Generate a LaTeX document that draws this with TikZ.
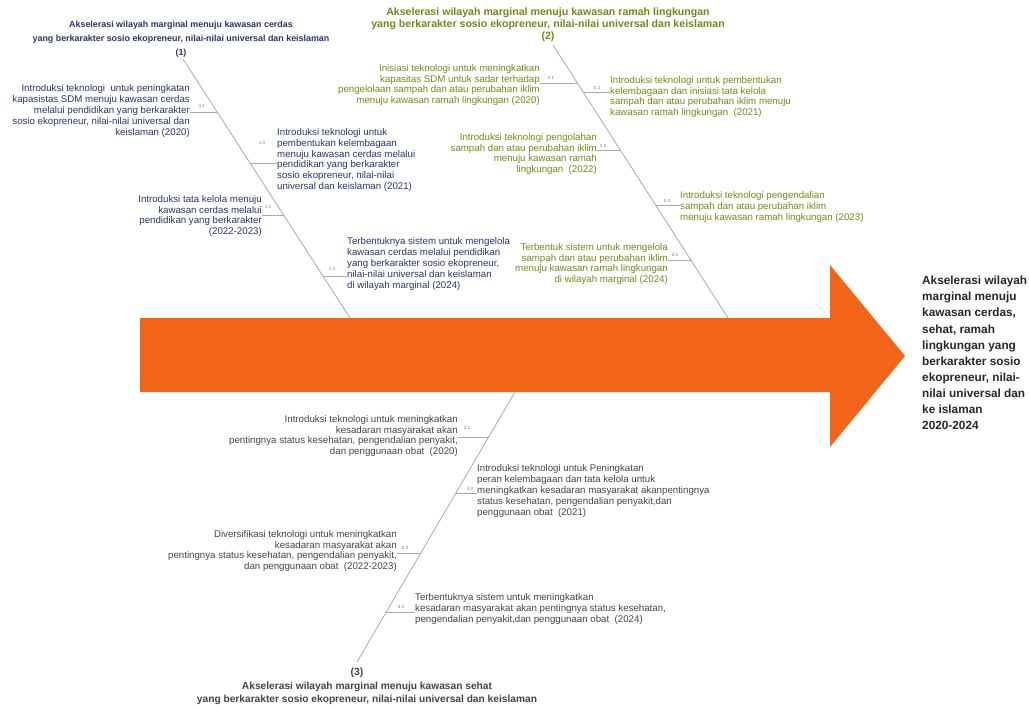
\documentclass[tikz,border=0pt]{standalone}
\usepackage{fontspec}
\setmainfont{Liberation Sans}
\definecolor{grpone}{RGB}{40,52,108}
\definecolor{grptwo}{RGB}{120,134,24}
\definecolor{grpthree}{RGB}{68,68,68}
\definecolor{arrowor}{RGB}{242,100,24}
\definecolor{bonegray}{RGB}{170,170,170}
\definecolor{numgray}{RGB}{120,120,120}
\begin{document}
\begin{tikzpicture}[x=1pt,y=-1pt,
    txt/.style={inner sep=0pt, font=\fontsize{9.7}{10.9}\selectfont},
    lefttxt/.style={txt, align=left, anchor=west},
    righttxt/.style={txt, align=right, anchor=east},
    head/.style={inner sep=0pt, align=center, font=\bfseries},
    num/.style={inner sep=0pt, text=numgray, font=\fontsize{4.5}{5}\selectfont},
    bone/.style={draw=bonegray, line width=0.8pt},
    twig/.style={draw=bonegray, line width=0.6pt}]
    \useasboundingbox (0,0) rectangle (1029,709);

    % spine
    \fill[arrowor] (140,318) -- (830,318) -- (830,265) -- (905,356)
        -- (830,447) -- (830,392) -- (140,392) -- cycle;

    % heads of the three bones
    \node[head, text=grpone, font=\bfseries\fontsize{8.9}{14}\selectfont] (H1) at (181,39)
        {Akselerasi wilayah marginal menuju kawasan cerdas\\
         yang berkarakter sosio ekopreneur, nilai-nilai universal dan keislaman\\(1)};
    \node[head, text=grptwo, font=\bfseries\fontsize{10.6}{12}\selectfont] (H2) at (548,25)
        {Akselerasi wilayah marginal menuju kawasan ramah lingkungan\\
         yang berkarakter sosio ekopreneur, nilai-nilai universal dan keislaman\\(2)};
    \node[head, text=grpthree, font=\bfseries\fontsize{10.4}{13}\selectfont] (H3) at (357,673) {(3)};
    \node[head, text=grpthree, font=\bfseries\fontsize{10.2}{13}\selectfont, anchor=north]
        (H3t) at (367,682)
        {Akselerasi wilayah marginal menuju kawasan sehat\\
         yang berkarakter sosio ekopreneur, nilai-nilai universal dan keislaman};
    \node[inner sep=0pt, anchor=west, align=left, text=black!85,
          font=\bfseries\fontsize{11.8}{16.1}\selectfont] (R) at (922,353)
        {Akselerasi wilayah\\marginal menuju\\kawasan cerdas,\\sehat, ramah\\
         lingkungan yang\\berkarakter sosio\\ekopreneur, nilai-\\nilai universal dan\\
         ke islaman\\2020-2024};

    % bones
    \coordinate (B1a) at (183,59);
    \coordinate (B1b) at (350,318);
    \coordinate (B2a) at (553,45);
    \coordinate (B2b) at (728,318);
    \coordinate (B3a) at (515,392);
    \coordinate (B3b) at (357,662);
    \draw[bone] (B1a) -- (B1b);
    \draw[bone] (B2a) -- (B2b);
    \draw[bone] (B3a) -- (B3b);

    % group 1
    \node[righttxt, text=grpone] (t11) at (190,111)
        {Introduksi teknologi \ untuk peningkatan\\kapasistas SDM menuju kawasan cerdas\\
         melalui pendidikan yang berkarakter\\sosio ekopreneur, nilai-nilai universal dan\\
         keislaman (2020)};
    \node[lefttxt, text=grpone] (t13) at (277,160)
        {Introduksi teknologi untuk\\pembentukan kelembagaan\\menuju kawasan cerdas melalui\\
         pendidikan yang berkarakter\\sosio ekopreneur, nilai-nilai\\universal dan keislaman (2021)};
    \node[righttxt, text=grpone] (t12) at (262,216)
        {Introduksi tata kelola menuju\\kawasan cerdas melalui\\pendidikan yang berkarakter\\(2022-2023)};
    \node[lefttxt, text=grpone] (t14) at (347,264)
        {Terbentuknya sistem untuk mengelola\\kawasan cerdas melalui pendidikan\\
         yang berkarakter sosio ekopreneur,\\nilai-nilai universal dan keislaman\\
         di wilayah marginal (2024)};

    \coordinate (j11) at (intersection of B1a--B1b and 0,112--1029,112);
    \coordinate (j13) at (intersection of B1a--B1b and 0,163--1029,163);
    \coordinate (j12) at (intersection of B1a--B1b and 0,215--1029,215);
    \coordinate (j14) at (intersection of B1a--B1b and 0,276--1029,276);
    \draw[twig] (j11) -- (j11 -| t11.east);
    \draw[twig] (j13) -- (j13 -| t13.west);
    \draw[twig] (j12) -- (j12 -| t12.east);
    \draw[twig] (j14) -- (j14 -| t14.west);
    \node[num] (n11) at (202,106) {1.1};
    \node[num] (n13) at (262,143) {1.3};
    \node[num] (n12) at (268,207) {1.2};
    \node[num] (n14) at (332,269) {1.4};

    % group 2
    \node[righttxt, text=grptwo] (t21) at (540,85)
        {Inisiasi teknologi untuk meningkatkan\\kapasitas SDM untuk sadar terhadap\\
         pengelolaan sampah dan atau perubahan iklim\\menuju kawasan ramah lingkungan (2020)};
    \node[lefttxt, text=grptwo] (t22) at (610,97)
        {Introduksi teknologi untuk pembentukan\\kelembagaan dan inisiasi tata kelola\\
         sampah dan atau perubahan iklim menuju\\kawasan ramah lingkungan \ (2021)};
    \node[righttxt, text=grptwo] (t23) at (597,154)
        {Introduksi teknologi pengolahan\\sampah dan atau perubahan iklim\\menuju kawasan ramah\\
         lingkungan \ (2022)};
    \node[lefttxt, text=grptwo] (t24) at (680,207)
        {Introduksi teknologi pengendalian\\sampah dan atau perubahan iklim\\
         menuju kawasan ramah lingkungan (2023)};
    \node[righttxt, text=grptwo] (t25) at (668,264)
        {Terbentuk sistem untuk mengelola\\sampah dan atau perubahan iklim\\
         menuju kawasan ramah lingkungan\\di wilayah marginal (2024)};

    \coordinate (j21) at (intersection of B2a--B2b and 0,83--1029,83);
    \coordinate (j22) at (intersection of B2a--B2b and 0,92--1029,92);
    \coordinate (j23) at (intersection of B2a--B2b and 0,150--1029,150);
    \coordinate (j24) at (intersection of B2a--B2b and 0,205--1029,205);
    \coordinate (j25) at (intersection of B2a--B2b and 0,260--1029,260);
    \draw[twig] (j21) -- (j21 -| t21.east);
    \draw[twig] (j22) -- (j22 -| t22.west);
    \draw[twig] (j23) -- (j23 -| t23.east);
    \draw[twig] (j24) -- (j24 -| t24.west);
    \draw[twig] (j25) -- (j25 -| t25.east);
    \node[num] (n21) at (551,78) {2.1};
    \node[num] (n22) at (597,88) {2.2};
    \node[num] (n23) at (603,146) {2.3};
    \node[num] (n24) at (667,201) {2.4};
    \node[num] (n25) at (675,255) {2.5};

    % group 3
    \node[righttxt, text=grpthree] (t31) at (458,436)
        {Introduksi teknologi untuk meningkatkan\\kesadaran masyarakat akan\\
         pentingnya status kesehatan, pengendalian penyakit,\\dan penggunaan obat \ (2020)};
    \node[lefttxt, text=grpthree] (t32) at (477,491)
        {Introduksi teknologi untuk Peningkatan\\peran kelembagaan dan tata kelola untuk\\
         meningkatkan kesadaran masyarakat akanpentingnya\\status kesehatan, pengendalian penyakit,dan\\
         penggunaan obat \ (2021)};
    \node[righttxt, text=grpthree] (t33) at (397,551)
        {Diversifikasi teknologi untuk meningkatkan\\kesadaran masyarakat akan\\
         pentingnya status kesehatan, pengendalian penyakit,\\dan penggunaan obat \ (2022-2023)};
    \node[lefttxt, text=grpthree] (t34) at (415,609)
        {Terbentuknya sistem untuk meningkatkan\\
         kesadaran masyarakat akan pentingnya status kesehatan,\\
         pengendalian penyakit,dan penggunaan obat \ (2024)};

    \coordinate (j31) at (intersection of B3a--B3b and 0,437--1029,437);
    \coordinate (j32) at (intersection of B3a--B3b and 0,493--1029,493);
    \coordinate (j33) at (intersection of B3a--B3b and 0,553--1029,553);
    \coordinate (j34) at (intersection of B3a--B3b and 0,612--1029,612);
    \draw[twig] (j31) -- (j31 -| t31.east);
    \draw[twig] (j32) -- (j32 -| t32.west);
    \draw[twig] (j33) -- (j33 -| t33.east);
    \draw[twig] (j34) -- (j34 -| t34.west);
    \node[num] (n31) at (467,428) {3.1};
    \node[num] (n32) at (470,489) {3.2};
    \node[num] (n33) at (405,548) {3.3};
    \node[num] (n34) at (401,607) {3.4};
\end{tikzpicture}
\end{document}
